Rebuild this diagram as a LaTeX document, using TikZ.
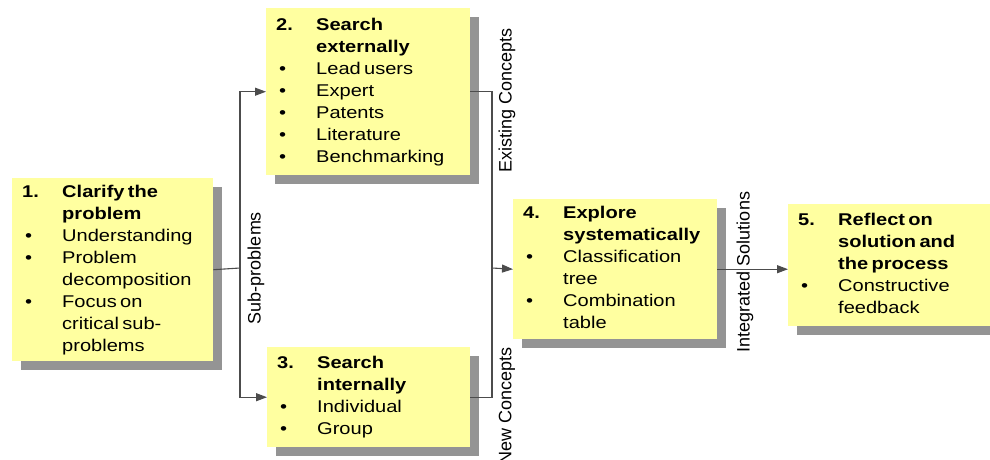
\documentclass[tikz,border=0pt]{standalone}
\usepackage{fontspec}
\setmainfont{Liberation Sans}[FakeStretch=1.18]
\newfontfamily\tagfont{Liberation Sans}
\usepackage{tikz}
\usetikzlibrary{arrows.meta, positioning, shadows}

\definecolor{boxyellow}{RGB}{255,255,160}

% number / bullet column, then the text lines
\newcommand{\stepitems}[1]{{\fontsize{17}{22}\selectfont
  \begin{tabular}{@{}p{40pt}@{}l@{}}#1\end{tabular}}}
\newcommand{\bul}{\hspace{3pt}\textbullet}

\begin{document}
\begin{tikzpicture}[x=1pt, y=-1pt,
    stepbox/.style={fill=boxyellow, anchor=north west, align=left,
      inner xsep=10pt, inner ysep=0pt,
      drop shadow={shadow xshift=9pt, shadow yshift=-9pt, fill=black!42, opacity=1}},
    tag/.style={rotate=90, inner sep=0pt, font=\tagfont\fontsize{18}{20}\selectfont},
    link/.style={draw=black!70, line width=1.1pt}]
  \useasboundingbox (0,0) rectangle (990,459);
  \clip (0,0) rectangle (990,459);

  \node[stepbox, text width=181pt, minimum height=183pt] (clarify) at (12,178)
    {\stepitems{\textbf{1.} & \textbf{Clarify the}\\
      & \textbf{problem}\\
      \bul & Understanding\\
      \bul & Problem\\
      & decomposition\\
      \bul & Focus on\\
      & critical sub-\\
      & problems}};
  \node[stepbox, text width=184pt, minimum height=167pt] (extern) at (266,8)
    {\stepitems{\textbf{2.} & \textbf{Search}\\
      & \textbf{externally}\\
      \bul & Lead users\\
      \bul & Expert\\
      \bul & Patents\\
      \bul & Literature\\
      \bul & Benchmarking}};
  \node[stepbox, text width=183pt, minimum height=100pt] (intern) at (267,347)
    {\stepitems{\textbf{3.} & \textbf{Search}\\
      & \textbf{internally}\\
      \bul & Individual\\
      \bul & Group}};
  \node[stepbox, text width=184pt, minimum height=140pt] (explore) at (513,199)
    {\stepitems{\textbf{4.} & \textbf{Explore}\\
      & \textbf{systematically}\\
      \bul & Classification\\
      & tree\\
      \bul & Combination\\
      & table}};
  \node[stepbox, text width=195pt, minimum height=122pt] (reflect) at (788,204)
    {\stepitems{\textbf{5.} & \textbf{Reflect on}\\
      & \textbf{solution and}\\
      & \textbf{the process}\\
      \bul & Constructive\\
      & feedback}};

  \coordinate (fork) at (240,268);
  \coordinate (merge) at (492,268);

  \draw[link] (clarify.east) -- (fork);
  \draw[link, -{Triangle[length=11pt, width=8pt]}] (fork) |- (extern.west);
  \draw[link, -{Triangle[length=11pt, width=8pt]}] (fork) |- (intern.west);
  \draw[link] (extern.east) -| (merge) |- (intern.east);
  \draw[link, -{Triangle[length=11pt, width=8pt]}] (merge) -- (explore.west);
  \draw[link, -{Triangle[length=11pt, width=8pt]}] (explore.east) -- (explore.east -| reflect.west);

  \node[tag] (subprob) at (256,268) {Sub-problems};
  \node[tag] (existing) at (507,100) {Existing Concepts};
  \node[tag, anchor=east] (newconc) at (507,347) {New Concepts};
  \node[tag] (integrated) at (745,272) {Integrated Solutions};
\end{tikzpicture}
\end{document}
